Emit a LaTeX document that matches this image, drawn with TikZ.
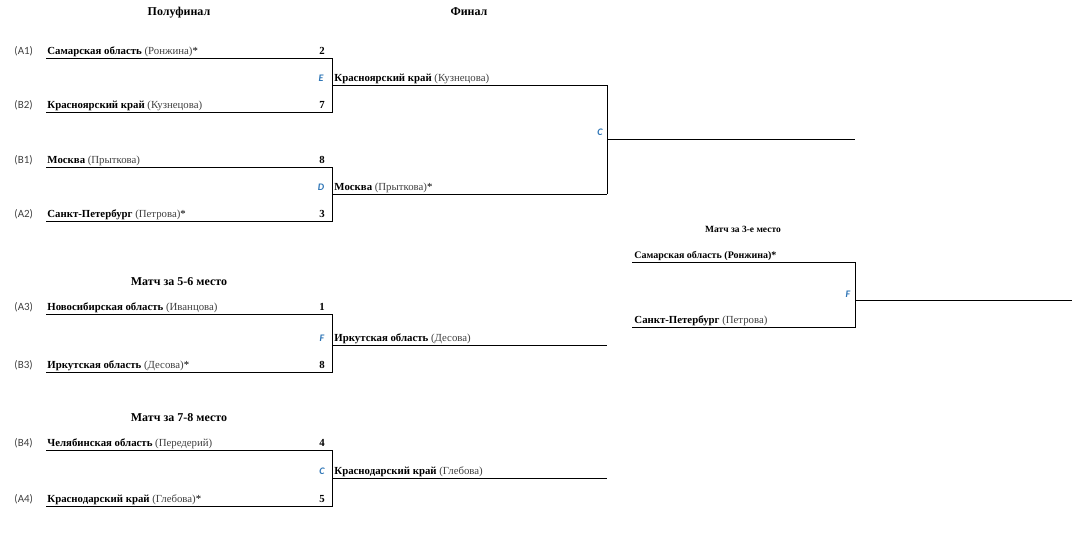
\documentclass[tikz,border=0pt]{standalone}
\usepackage{fontspec}
\setmainfont{Liberation Serif}
\newfontfamily\seedfont{Carlito}
\definecolor{seedgray}{HTML}{404040}
\definecolor{gameblue}{HTML}{2E75B6}
\begin{document}
\begin{tikzpicture}[x=1pt,y=-1pt,line width=0.9pt,
  team/.style={anchor=base west,inner sep=0pt,font=\fontsize{10.8}{13}\selectfont},
  seed/.style={anchor=base west,inner sep=0pt,text=seedgray,font=\seedfont\fontsize{11}{13}\selectfont},
  score/.style={anchor=base,inner sep=0pt,font=\fontsize{10.8}{13}\selectfont\bfseries},
  game/.style={anchor=base,inner sep=0pt,text=gameblue,font=\seedfont\fontsize{10}{12}\selectfont\bfseries\itshape},
  title/.style={anchor=base,inner sep=0pt,font=\fontsize{12}{14}\selectfont\bfseries},
  stitle/.style={anchor=base,inner sep=0pt,font=\fontsize{9.5}{11}\selectfont\bfseries}]
\useasboundingbox (0,0) rectangle (1079,538);
\newcommand{\tm}[2]{\textbf{#1} {\color{seedgray}(#2)}}
% titles
\node[title] (t1) at (179,15) {Полуфинал};
\node[title] (t2) at (469,15) {Финал};
\node[stitle] (t3) at (743,232) {Матч за 3-е место};
\node[title] (t4) at (179,285) {Матч за 5-6 место};
\node[title] (t5) at (179,421) {Матч за 7-8 место};
% semifinal E
\coordinate (a1l) at (46,58); \coordinate (a1r) at (332,58);
\coordinate (b2l) at (46,112); \coordinate (b2r) at (332,112);
\coordinate (em) at (332,85); \coordinate (ew) at (607,85);
\draw (a1l) -- (a1r) -- (b2r) -- (b2l);
\draw (em) -- (ew);
\node[seed] (sa1) at (14,54) {(A1)};
\node[team] (na1) at (47,54) {\tm{Самарская область}{Ронжина}*};
\node[score] (pa1) at (322,54) {2};
\node[seed] (sb2) at (14,108) {(B2)};
\node[team] (nb2) at (47,108) {\tm{Красноярский край}{Кузнецова}};
\node[score] (pb2) at (322,108) {7};
\node[game] (ge) at (321,81) {E};
\node[team] (we) at (334,81) {\tm{Красноярский край}{Кузнецова}};
% semifinal D
\coordinate (b1l) at (46,167); \coordinate (b1r) at (332,167);
\coordinate (a2l) at (46,221); \coordinate (a2r) at (332,221);
\coordinate (dm) at (332,194); \coordinate (dw) at (607,194);
\draw (b1l) -- (b1r) -- (a2r) -- (a2l);
\draw (dm) -- (dw);
\node[seed] (sb1) at (14,163) {(B1)};
\node[team] (nb1) at (47,163) {\tm{Москва}{Прыткова}};
\node[score] (pb1) at (322,163) {8};
\node[seed] (sa2) at (14,217) {(A2)};
\node[team] (na2) at (47,217) {\tm{Санкт-Петербург}{Петрова}*};
\node[score] (pa2) at (322,217) {3};
\node[game] (gd) at (321,190) {D};
\node[team] (wd) at (334,190) {\tm{Москва}{Прыткова}*};
% final
\coordinate (cm) at (607,139); \coordinate (cw) at (855,139);
\draw (ew) -- (dw);
\draw (cm) -- (cw);
\node[game] (gc) at (600,135) {C};
% third place
\coordinate (t3a) at (632,262); \coordinate (t3ar) at (855,262);
\coordinate (t3b) at (632,327); \coordinate (t3br) at (855,327);
\coordinate (fm) at (855,300); \coordinate (fw) at (1072,300);
\draw (t3a) -- (t3ar) -- (t3br) -- (t3b);
\draw (fm) -- (fw);
\node[team,font=\fontsize{10}{12}\selectfont] (n3a) at (634,258) {\textbf{Самарская область (Ронжина)*}};
\node[team] (n3b) at (634,323) {\tm{Санкт-Петербург}{Петрова}};
\node[game] (gf3) at (848,297) {F};
% 5-6
\coordinate (a3l) at (46,314); \coordinate (a3r) at (332,314);
\coordinate (b3l) at (46,372); \coordinate (b3r) at (332,372);
\coordinate (fm2) at (332,345); \coordinate (fw2) at (607,345);
\draw (a3l) -- (a3r) -- (b3r) -- (b3l);
\draw (fm2) -- (fw2);
\node[seed] (sa3) at (14,310) {(A3)};
\node[team] (na3) at (47,310) {\tm{Новосибирская область}{Иванцова}};
\node[score] (pa3) at (322,310) {1};
\node[seed] (sb3) at (14,368) {(B3)};
\node[team] (nb3) at (47,368) {\tm{Иркутская область}{Десова}*};
\node[score] (pb3) at (322,368) {8};
\node[game] (gf) at (322,341) {F};
\node[team] (wf) at (334,341) {\tm{Иркутская область}{Десова}};
% 7-8
\coordinate (b4l) at (46,450); \coordinate (b4r) at (332,450);
\coordinate (a4l) at (46,506); \coordinate (a4r) at (332,506);
\coordinate (cm2) at (332,478); \coordinate (cw2) at (607,478);
\draw (b4l) -- (b4r) -- (a4r) -- (a4l);
\draw (cm2) -- (cw2);
\node[seed] (sb4) at (14,446) {(B4)};
\node[team] (nb4) at (47,446) {\tm{Челябинская область}{Передерий}};
\node[score] (pb4) at (322,446) {4};
\node[seed] (sa4) at (14,502) {(A4)};
\node[team] (na4) at (47,502) {\tm{Краснодарский край}{Глебова}*};
\node[score] (pa4) at (322,502) {5};
\node[game] (gc2) at (322,474) {C};
\node[team] (wc2) at (334,474) {\tm{Краснодарский край}{Глебова}};
\end{tikzpicture}
\end{document}
